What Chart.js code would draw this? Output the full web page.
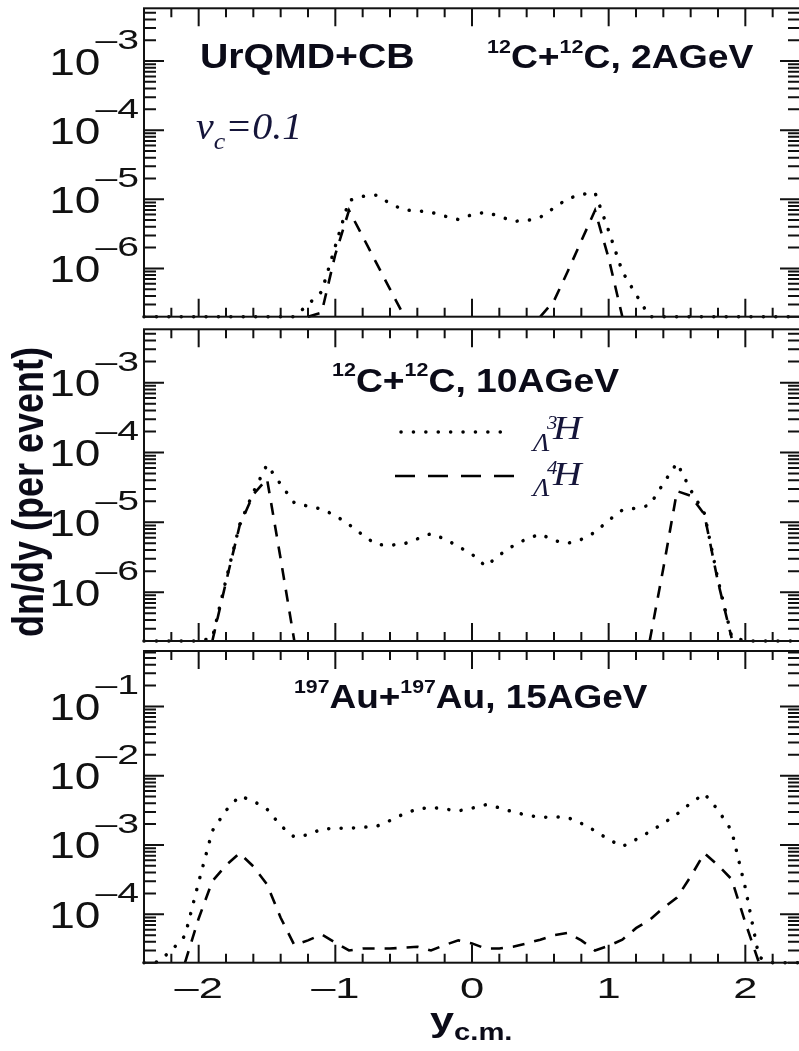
<!DOCTYPE html>
<html><head><meta charset="utf-8">
<script src="https://cdn.jsdelivr.net/npm/chart.js@4.4.1/dist/chart.umd.min.js"></script>
<style>
html,body{margin:0;padding:0;background:#fff;overflow:hidden;width:799px;height:1051px;position:relative}
canvas{position:absolute;left:0;}
</style></head><body>
<canvas id="p1" width="802" height="330" style="top:0px"></canvas>
<canvas id="p2" width="802" height="330" style="top:320px"></canvas>
<canvas id="p3" width="802" height="411" style="top:640px"></canvas>
<script>
// ---------------- data ----------------
const rapidity = [-2.4,-2.3,-2.2,-2.1,-2.0,-1.9,-1.8,-1.7,-1.6,-1.5,-1.4,-1.3,-1.2,-1.1,-1.0,-0.9,-0.8,-0.7,-0.6,-0.5,-0.4,-0.3,-0.2,-0.1,0.0,0.1,0.2,0.3,0.4,0.5,0.6,0.7,0.8,0.9,1.0,1.1,1.2,1.3,1.4,1.5,1.6,1.7,1.8,1.9,2.0,2.1,2.2,2.3,2.4];

// 12C+12C, 2 AGeV
const c2_H3 = [2e-7,2e-7,2e-7,2e-7,2e-7,2e-7,2e-7,2e-7,2e-7,2e-7,2e-7,2e-7,
  3.0e-7,4.6e-7,2.1e-6,9.6e-6,1.1e-5,1.15e-5,8.7e-6,7.0e-6,6.8e-6,6.5e-6,5.7e-6,5.1e-6,6.0e-6,6.5e-6,5.7e-6,4.8e-6,4.9e-6,5.5e-6,7.5e-6,1.02e-5,1.17e-5,1.25e-5,3.5e-6,9.0e-7,4.2e-7,
  2e-7,2e-7,2e-7,2e-7,2e-7,2e-7,2e-7,2e-7,2e-7,2e-7,2e-7,2e-7];
const c2_H4 = [null,null,null,null,null,null,null,null,null,null,null,null,
  2e-7,2.3e-7,1.6e-6,6.9e-6,2.9e-6,1.2e-6,5e-7,2.1e-7,
  null,null,null,null,null,null,null,null,null,
  2e-7,3.4e-7,9e-7,2.5e-6,6.9e-6,1.4e-6,2e-7,
  null,null,null,null,null,null,null,null,null,null,null,null,null];

// 12C+12C, 10 AGeV
const c10_H3 = [2e-7,2e-7,2e-7,2e-7,2e-7,
  2.2e-7,1.5e-6,9.3e-6,2.7e-5,6.7e-5,3.5e-5,1.9e-5,1.7e-5,1.55e-5,1.25e-5,
  9.3e-6,6.6e-6,4.8e-6,4.7e-6,4.9e-6,5.8e-6,6.9e-6,5.8e-6,4.5e-6,3.5e-6,
  2.35e-6,3.4e-6,4.6e-6,5.8e-6,6.8e-6,5.5e-6,5.0e-6,5.7e-6,7.2e-6,1.07e-5,
  1.5e-5,1.6e-5,1.75e-5,3.6e-5,7.1e-5,2.9e-5,1.35e-5,1.5e-6,2.3e-7,
  2e-7,2e-7,2e-7,2e-7,2e-7];
const c10_H4 = [null,null,null,null,null,
  2e-7,1.4e-6,9e-6,2.5e-5,4.2e-5,3e-6,2e-7,
  null,null,null,null,null,null,null,null,null,null,null,null,null,null,null,null,null,null,null,null,null,null,null,null,null,
  2e-7,2.2e-6,2.8e-5,2.4e-5,1.3e-5,1.4e-6,2.2e-7,
  null,null,null,null,null];

// 197Au+197Au, 15 AGeV
const au15_H3 = [2e-5,2.05e-5,3e-5,4.9e-5,2.9e-4,
  1.6e-3,3.15e-3,5.1e-3,4.3e-3,3.3e-3,
  1.9e-3,1.3e-3,1.4e-3,1.7e-3,1.74e-3,
  1.74e-3,1.8e-3,1.85e-3,2.25e-3,2.8e-3,
  3.3e-3,3.5e-3,3.3e-3,3.1e-3,3.4e-3,
  3.8e-3,3.45e-3,3.0e-3,2.7e-3,2.5e-3,
  2.55e-3,2.5e-3,2.05e-3,1.6e-3,1.2e-3,
  9.5e-4,1.2e-3,1.55e-3,2.05e-3,2.8e-3,
  4.0e-3,5.5e-3,3.2e-3,1.6e-3,2.4e-4,
  2.4e-5,2e-5,2e-5,2e-5];
const au15_H4 = [null,null,null,
  2e-5,8.7e-5,
  3e-4,5.1e-4,7.6e-4,4.9e-4,2.7e-4,
  8.9e-5,3.6e-5,4.2e-5,5.1e-5,3.9e-5,
  3.0e-5,3.2e-5,3.2e-5,3.2e-5,3.3e-5,
  3.4e-5,3.0e-5,3.6e-5,4.2e-5,3.8e-5,
  3.2e-5,3.2e-5,3.4e-5,3.8e-5,4.3e-5,
  5.0e-5,5.4e-5,4.2e-5,3.0e-5,3.5e-5,
  4.3e-5,6.3e-5,8.3e-5,1.23e-4,1.74e-4,
  3.5e-4,7.6e-4,5.1e-4,3.2e-4,7.6e-5,
  2e-5,
  null,null,null];

const xTickValues = [-2,-1,0,1,2];
const xTickLabels = ['\u20132','\u20131','0','1','2'];
const expTop = [-3,-4,-5,-6];
const expMid = [-3,-4,-5,-6];
const expBot = [-1,-2,-3,-4];
const seriesNames = ['\u039b3H','\u039b4H'];

// ---------------- styling helpers ----------------
const SANS = '"Liberation Sans", Arial, Helvetica, sans-serif';
const SERIF = '"Liberation Serif", "Times New Roman", serif';
const INK = '#0b0b18';
const SERIFINK = '#15153a';

function rich(ctx, x, y, parts, sx, color){
  ctx.save();
  ctx.fillStyle = color || INK;
  ctx.textAlign = 'left'; ctx.textBaseline = 'alphabetic';
  ctx.translate(x, y); ctx.scale(sx, 1);
  let cx = 0;
  for (const p of parts){
    ctx.font = p.font;
    ctx.fillText(p.t, cx, p.dy || 0);
    cx += ctx.measureText(p.t).width;
  }
  ctx.restore();
}

const dottedStyle = {borderColor:'#000', borderWidth:3.5, borderDash:[0.1,12.3], borderCapStyle:'round', pointRadius:0, tension:0, fill:false, clip:false, spanGaps:false};
const dashedStyle = {borderColor:'#000', borderWidth:2.6, borderDash:[12,10], borderCapStyle:'butt', pointRadius:0, tension:0, fill:false, clip:false, spanGaps:false};

function makePanel(id, pageTop, areaTop, areaBottom, canvasH, yMin, yMax, exps, s3, s4, drawExtras, showX){
  const pts = arr => rapidity.map((x,i)=>({x:x, y:arr[i]}));
  const plugin = {
    id:'physAxes_'+id,
    afterDraw(chart){
      const ctx = chart.ctx, a = chart.chartArea, xs = chart.scales.x, ys = chart.scales.y;
      ctx.save();
      ctx.strokeStyle = '#111'; ctx.lineWidth = 2; ctx.lineCap = 'butt'; ctx.setLineDash([]);
      ctx.beginPath();
      for (let k = Math.ceil(xs.min/0.2 - 1e-6); k*0.2 <= xs.max + 1e-6; k++){
        const v = k*0.2, px = xs.getPixelForValue(v);
        const major = Math.abs(v - Math.round(v)) < 1e-6;
        const L = major ? 18 : 9;
        ctx.moveTo(px, a.bottom); ctx.lineTo(px, a.bottom - L);
        ctx.moveTo(px, a.top); ctx.lineTo(px, a.top + L);
      }
      const e0 = Math.floor(Math.log10(ys.min)), e1 = Math.ceil(Math.log10(ys.max));
      for (let e = e0; e <= e1; e++){
        for (let m = 1; m <= 9; m++){
          const v = m*Math.pow(10, e);
          if (v < ys.min*0.9999 || v > ys.max*1.0001) continue;
          const py = ys.getPixelForValue(v);
          const L = m === 1 ? 20 : 12;
          ctx.moveTo(a.left, py); ctx.lineTo(a.left + L, py);
          ctx.moveTo(a.right, py); ctx.lineTo(a.right - L, py);
        }
      }
      ctx.stroke();
      ctx.strokeRect(a.left, a.top, a.right - a.left, a.bottom - a.top);
      ctx.fillStyle = '#111';
      for (const ex of exps){
        const py = ys.getPixelForValue(Math.pow(10, ex));
        const sup = '\u2013' + Math.abs(ex);
        ctx.font = '27px ' + SANS;
        const supW = ctx.measureText(sup).width*1.45;
        const supRight = a.left - 5;
        ctx.save(); ctx.translate(supRight, py - 12); ctx.scale(1.45, 1); ctx.textAlign = 'right'; ctx.fillText(sup, 0, 0); ctx.restore();
        ctx.font = '36px ' + SANS;
        ctx.save(); ctx.translate(supRight - supW + 5, py + 13.5); ctx.scale(1.28, 1); ctx.textAlign = 'right'; ctx.fillText('10', 0, 0); ctx.restore();
      }
      if (showX){
        ctx.font = '30px ' + SANS;
        xTickValues.forEach((v, i) => {
          const px = xs.getPixelForValue(v);
          ctx.save(); ctx.translate(px, a.bottom + 35.5); ctx.scale(1.45, 1); ctx.textAlign = 'center'; ctx.fillText(xTickLabels[i], 0, 0); ctx.restore();
        });
      }
      ctx.restore();
      drawExtras(ctx, pageTop);
    }
  };
  return new Chart(document.getElementById(id).getContext('2d'), {
    type:'line',
    data:{datasets:[
      Object.assign({label:seriesNames[0], data:pts(s3)}, dottedStyle),
      Object.assign({label:seriesNames[1], data:pts(s4)}, dashedStyle)
    ]},
    options:{
      responsive:false, animation:false, devicePixelRatio:1,
      layout:{padding:{left:144, right:2, top:areaTop - pageTop, bottom:canvasH - (areaBottom - pageTop)}},
      plugins:{legend:{display:false}, tooltip:{enabled:false}},
      scales:{
        x:{type:'linear', min:-2.4, max:2.4, display:false},
        y:{type:'logarithmic', min:yMin, max:yMax, display:false}
      }
    },
    plugins:[plugin]
  });
}

const boldBig = 'bold 33px ' + SANS, boldSup = 'bold 19px ' + SANS;

makePanel('p1', 0, 8.3, 316.7, 330, 2e-7, 5.8e-3, expTop, c2_H3, c2_H4, (ctx, top) => {
  rich(ctx, 200, 68.3 - top, [{t:'UrQMD+CB', font:'bold 35px ' + SANS}], 1.12);
  rich(ctx, 487, 68 - top, [{t:'12', font:boldSup, dy:-15},{t:'C+', font:boldBig},{t:'12', font:boldSup, dy:-15},{t:'C, 2AGeV', font:boldBig}], 1.13);
  rich(ctx, 196, 139 - top, [{t:'v', font:'italic 37px ' + SERIF},{t:'c', font:'italic 24px ' + SERIF, dy:10},{t:'=0.1', font:'italic 37px ' + SERIF}], 1.08, SERIFINK);
}, false);

makePanel('p2', 320, 329.3, 641, 330, 2e-7, 5.8e-3, expMid, c10_H3, c10_H4, (ctx, top) => {
  rich(ctx, 332, 392 - top, [{t:'12', font:boldSup, dy:-16},{t:'C+', font:boldBig},{t:'12', font:boldSup, dy:-16},{t:'C, 10AGeV', font:boldBig}], 1.13);
  ctx.save();
  ctx.strokeStyle = '#000';
  ctx.lineWidth = 3.5; ctx.lineCap = 'round'; ctx.setLineDash([0.1, 12.3]);
  ctx.beginPath(); ctx.moveTo(401, 432 - top); ctx.lineTo(512, 432 - top); ctx.stroke();
  ctx.lineWidth = 2.6; ctx.lineCap = 'butt'; ctx.setLineDash([20, 13]);
  ctx.beginPath(); ctx.moveTo(395, 476 - top); ctx.lineTo(515, 476 - top); ctx.stroke();
  ctx.restore();
  rich(ctx, 533, 451 - top, [{t:'\u039b', font:'italic 26px ' + SERIF}], 1.05, SERIFINK);
  rich(ctx, 547, 429 - top, [{t:'3', font:'italic 19px ' + SERIF}], 1.1, SERIFINK);
  rich(ctx, 553, 439 - top, [{t:'H', font:'italic 33px ' + SERIF}], 1.2, SERIFINK);
  rich(ctx, 533, 496 - top, [{t:'\u039b', font:'italic 26px ' + SERIF}], 1.05, SERIFINK);
  rich(ctx, 547, 474 - top, [{t:'4', font:'italic 19px ' + SERIF}], 1.1, SERIFINK);
  rich(ctx, 553, 485 - top, [{t:'H', font:'italic 33px ' + SERIF}], 1.2, SERIFINK);
  ctx.save();
  ctx.fillStyle = INK;
  ctx.translate(31, 492 - top); ctx.rotate(-Math.PI/2); ctx.scale(1, 1.25);
  ctx.font = 'bold 36px ' + SANS; ctx.textAlign = 'center'; ctx.textBaseline = 'middle';
  ctx.fillText('dn/dy (per event)', 0, 0);
  ctx.restore();
}, false);

makePanel('p3', 640, 651, 962.7, 411, 2e-5, 0.63, expBot, au15_H3, au15_H4, (ctx, top) => {
  rich(ctx, 294, 708 - top, [{t:'197', font:boldSup, dy:-15},{t:'Au+', font:boldBig},{t:'197', font:boldSup, dy:-15},{t:'Au, 15AGeV', font:boldBig}], 1.12);
  rich(ctx, 430, 1031 - top, [{t:'y', font:'bold 34px ' + SANS},{t:'c.m.', font:'bold 23px ' + SANS, dy:9}], 1.27);
}, true);
</script>
</body></html>
